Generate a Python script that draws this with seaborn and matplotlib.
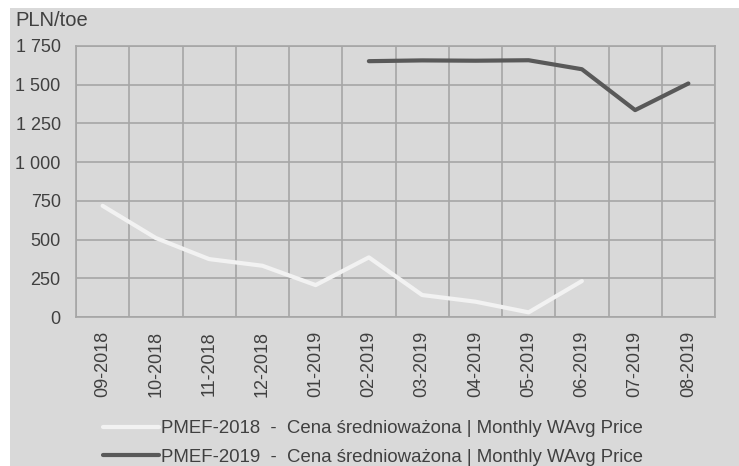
import pandas as pd
import seaborn as sns
from matplotlib import pyplot as plt
from matplotlib.patches import Rectangle
from matplotlib.ticker import FuncFormatter, MultipleLocator

months = ['09-2018', '10-2018', '11-2018', '12-2018', '01-2019', '02-2019',
          '03-2019', '04-2019', '05-2019', '06-2019', '07-2019', '08-2019']
pmef_2018 = [718, 510, 374, 331, 206, 385, 142, 99, 30, 232, None, None]
pmef_2019 = [None, None, None, None, None, 1652, 1657, 1655, 1658, 1600, 1336, 1508]

label_2018 = 'PMEF-2018  -  Cena średnioważona | Monthly WAvg Price'
label_2019 = 'PMEF-2019  -  Cena średnioważona | Monthly WAvg Price'

df = pd.concat([
    pd.DataFrame({'month': months, 'price': pmef_2018, 'series': label_2018}),
    pd.DataFrame({'month': months, 'price': pmef_2019, 'series': label_2019}),
]).dropna()

sns.set_style('white')
plt.rcParams['font.family'] = ['Liberation Sans', 'DejaVu Sans']
text_color = '#404040'
bg = '#D9D9D9'
grid = '#A6A6A6'

fig = plt.figure(figsize=(7.39, 4.66), dpi=100, facecolor='white')
fig.patches.append(Rectangle((10 / 739, 0), 1, 1 - 8 / 466, transform=fig.transFigure,
                             facecolor=bg, edgecolor='none', zorder=-1))
ax = fig.add_axes([76 / 739, 1 - 317 / 466, (715 - 76) / 739, (317 - 46) / 466])
ax.set_facecolor(bg)

# fix category order first
ax.plot(months, [0] * len(months), alpha=0)
sns.lineplot(data=df, x='month', y='price', hue='series', sort=False,
             palette={label_2018: '#F2F2F2', label_2019: '#595959'},
             linewidth=3, ax=ax)

ax.set_xlim(-0.5, len(months) - 0.5)
ax.set_ylim(0, 1750)
ax.yaxis.set_major_locator(MultipleLocator(250))
ax.yaxis.set_major_formatter(FuncFormatter(lambda v, p: f'{v:,.0f}'.replace(',', ' ')))
ax.set_xticks([i + 0.5 for i in range(-1, len(months))], minor=True)
ax.grid(False)
ax.grid(True, axis='y', which='major', color=grid, linewidth=1.2)
ax.grid(True, axis='x', which='minor', color=grid, linewidth=1.2)
ax.set_axisbelow(True)
for s in ax.spines.values():
    s.set_color(grid)
    s.set_linewidth(1.2)
ax.tick_params(axis='both', which='both', length=0, colors=text_color, labelsize=13)
ax.tick_params(axis='x', rotation=90, pad=10)
ax.tick_params(axis='y', pad=11)
ax.set_xlabel('')
ax.set_ylabel('')

fig.text(15 / 739, 1 - 21 / 466, 'PLN/toe', fontsize=14.5, color=text_color, va='center', ha='left')

handles, labels = ax.get_legend_handles_labels()
ax.legend(handles, labels, loc='center', bbox_to_anchor=(373 / 739, 1 - 443 / 466),
          bbox_transform=fig.transFigure, ncol=1, frameon=False, fontsize=13.4,
          handlelength=3.0, handletextpad=0.1, labelspacing=0.6, labelcolor=text_color)

plt.savefig('out.png', dpi=100)
